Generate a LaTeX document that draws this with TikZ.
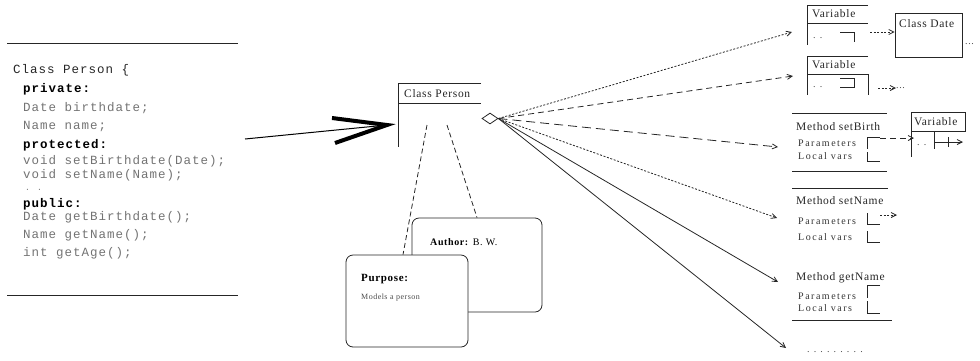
\documentclass[tikz,border=0pt]{standalone}
\usepackage{fontspec}
\setmainfont{Liberation Serif}
\newfontfamily\codefont[LetterSpace=8]{Liberation Mono}
\newfontfamily\rfont[LetterSpace=6]{Liberation Serif}
\newfontfamily\pfont[LetterSpace=15]{Liberation Serif}
\usetikzlibrary{arrows.meta,shapes.geometric,calc}
\tikzset{
  ln/.style={line width=0.8pt, draw=black!85},
  code/.style={anchor=west, inner sep=0pt, font=\codefont\fontsize{12.5}{13}\selectfont, text=black!55},
  kw/.style={code, text=black, font=\codefont\bfseries\fontsize{12.5}{13}\selectfont},
  rt/.style={anchor=west, inner sep=0pt, font=\rfont\fontsize{11.5}{12}\selectfont, text=black!85},
  pt/.style={anchor=west, inner sep=0pt, font=\pfont\fontsize{10}{11}\selectfont, text=black!80},
  sm/.style={anchor=west, inner sep=0pt, font=\rfont\fontsize{10}{11}\selectfont, text=black!70},
  arr/.style={ln, -{Straight Barb[length=5pt,width=5pt]}},
  dotl/.style={dash pattern=on 2pt off 1.6pt},
  dashl/.style={dash pattern=on 6pt off 4pt},
  ldashl/.style={dash pattern=on 9pt off 5pt},
  notel/.style={ln, dash pattern=on 5pt off 3pt},
  note/.style={draw=black!85, line width=0.8pt, rounded corners=7pt, inner sep=0pt},
}
\begin{document}
\begin{tikzpicture}[x=1pt,y=-1pt]
\useasboundingbox (0,0) rectangle (980,360);
% ---------- code block ----------
\draw[ln] (7,43) -- (238,43);
\draw[ln] (7,295) -- (238,295);
\node[code, text=black!85] (c0) at (13,70) {Class Person \{};
\node[kw] (c1) at (23,89) {private:};
\node[code] (c2) at (23,108) {Date birthdate;};
\node[code] (c3) at (23,126) {Name name;};
\node[kw] (c4) at (23,145) {protected:};
\node[code] (c5) at (23,161) {void setBirthdate(Date);};
\node[code] (c6) at (23,175) {void setName(Name);};
\node[code, font=\codefont\fontsize{8}{8}\selectfont] (c7) at (25,190) {. .};
\node[kw] (c8) at (23,204) {public:};
\node[code] (c9) at (23,217) {Date getBirthdate();};
\node[code] (c10) at (23,235) {Name getName();};
\node[code] (c11) at (23,253) {int getAge();};
% ---------- big arrow ----------
\coordinate (codeR) at (245,139);
\coordinate (cpL) at (387,125);
\draw[line width=1pt] (codeR) -- (cpL);
\draw[line width=4pt, line join=miter] (332,118) -- (cpL) -- (335,143);
% ---------- class person ----------
\draw[ln] (481,83) -- (398,83) -- (398,147);
\draw[ln] (398,103) -- (481,103);
\node[rt] (cp) at (404,94) {Class Person};
\node[diamond, draw=black!85, line width=0.8pt, inner sep=0pt, minimum width=16pt, minimum height=11pt, aspect=1.45] (dia) at (490,118.5) {};
% ---------- notes ----------
\node[note, minimum width=130pt, minimum height=94pt] (auth) at (477,265) {};
\node[note, fill=white, minimum width=122pt, minimum height=92pt] (purp) at (407,301) {};
\node[sm, text=black] (at) at (430,242) {\textbf{Author:} B. W.};
\node[sm, text=black, font=\rfont\bfseries\fontsize{11}{12}\selectfont] (pu) at (361,279) {Purpose:};
\node[sm, font=\rfont\fontsize{8}{9}\selectfont] (pm) at (361,298) {Models a person};
\coordinate (cpa) at (427,125);
\coordinate (cpb) at (447,125);
\draw[notel] (cpa) -- ($(purp.north)+(-4,0)$);
\draw[notel] (cpb) -- (auth.north);
% ---------- fan ----------
\coordinate (t1) at (792,32);
\coordinate (t2) at (793,76);
\coordinate (t3) at (778,147);
\coordinate (t4) at (777,218);
\coordinate (t5) at (778,282);
\coordinate (t6) at (786,348);
\draw[arr, dotl] (dia.east) -- (t1);
\draw[arr, dashl] (dia.east) -- (t2);
\draw[arr, ldashl] (dia.east) -- (t3);
\draw[arr, dotl] (dia.east) -- (t4);
\draw[arr] (dia.east) -- (t5);
\draw[arr] (dia.east) -- (t6);
% ---------- variable box 1 ----------
\draw[ln] (868,5) -- (807,5) -- (807,45);
\draw[ln] (807,23) -- (868,23);
\node[rt] (v1) at (812,14) {Variable};
\draw[ln] (840,32) -- (854,32) -- (854,42);
\node[sm] (v1d) at (813,38) {. .};
\node[draw=black!85, line width=0.8pt, minimum width=67pt, minimum height=44pt, inner sep=0pt] (cd) at (928.5,35) {};
\node[rt] (cdt) at (899,24) {Class Date};
\node[sm] (cdd) at (965,44) {...};
\coordinate (v1r) at (870,32);
\draw[arr, dotl] (v1r) -- (cd.west |- v1r);
% ---------- variable box 2 ----------
\draw[ln] (868,56) -- (807,56) -- (807,95);
\draw[ln] (807,74) -- (868,74) -- (868,95);
\node[rt] (v2) at (812,65) {Variable};
\draw[ln] (840,78) -- (854,78) -- (854,87) -- (840,87);
\node[sm] (v2d) at (813,87) {. .};
\coordinate (v2r) at (878,88);
\node[sm] (v2m) at (896,88) {...};
\draw[arr, dotl] (v2r) -- (v2m.west);
% ---------- method setBirth ----------
\draw[ln] (792,113) -- (887,113);
\draw[ln] (792,171) -- (887,171);
\node[rt] (m3) at (796,127) {Method setBirth};
\node[pt] (m3p) at (798,143) {Parameters};
\node[pt] (m3l) at (798,156) {Local vars};
\draw[ln] (880,137) -- (867,137) -- (867,149);
\draw[ln] (867,152) -- (867,161) -- (880,161);
\coordinate (m3r) at (880,138);
\draw[ln] (965,112) -- (911,112) -- (911,157);
\draw[ln] (965,112) -- (965,131) -- (911,131);
\node[rt] (v3) at (914,122) {Variable};
\node[sm] (v3d) at (917,145) {. .};
\draw[ln] (934,131) -- (934,149);
\draw[arr, dashl] (m3r) -- (v3.west |- m3r);
\coordinate (v3a) at (934,142);
\coordinate (v3b) at (963,142);
\draw[arr] (v3a) -- (v3b);
\draw[ln] (948,137) -- (948,147);
% ---------- method setName ----------
\draw[ln] (792,188) -- (888,188);
\node[rt] (m4) at (796,201) {Method setName};
\node[pt] (m4p) at (798,221) {Parameters};
\node[pt] (m4l) at (798,237) {Local vars};
\draw[ln] (867,213) -- (867,224) -- (880,224);
\draw[ln] (867,231) -- (867,242) -- (880,242);
\coordinate (m4r) at (880,215);
\coordinate (m4t) at (897,215);
\draw[arr, dotl] (m4r) -- (m4t);
% ---------- method getName ----------
\node[rt] (m5) at (796,278) {Method getName};
\node[pt] (m5p) at (798,296) {Parameters};
\node[pt] (m5l) at (798,308) {Local vars};
\draw[ln] (880,285) -- (867,285) -- (867,298);
\draw[ln] (867,301) -- (867,313) -- (880,313);
\draw[ln] (792,320) -- (892,320);
\node[sm] (more) at (807,352) {. . . . . . . . .};
\end{tikzpicture}
\end{document}
